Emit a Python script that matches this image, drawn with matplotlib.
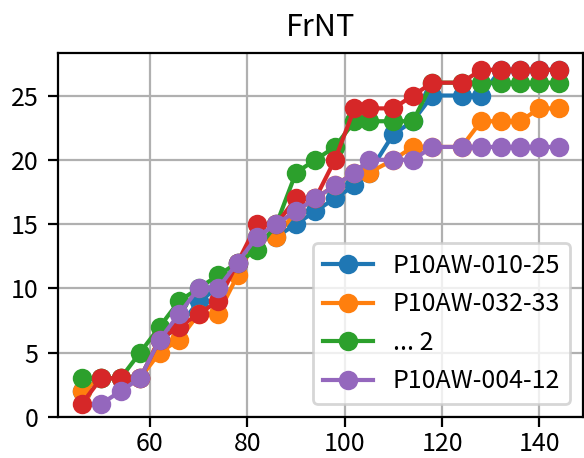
import matplotlib
matplotlib.use("Agg")
import matplotlib.pyplot as plt

plt.rcParams['font.family'] = ['Noto Sans CJK JP', 'DejaVu Sans']

# shared x positions
x_all = [46, 50, 54, 58, 62, 66, 70, 74, 78, 82, 86, 90, 94, 98,
         102, 105, 110, 114, 118, 124, 128, 132, 136, 140, 144]

blue_y = [2, 3, 3, 3, 6, 7, 9, 10, 12, 14, 14, 15, 16, 17,
          18, 19, 22, 23, 25, 25, 25, 27, 27, 27, 27]
orange_y = [2, 3, 3, 3, 5, 6, 8, 8, 11, 14, 14, 16, 17, 18,
            19, 19, 20, 21, 21, 21, 23, 23, 23, 24, 24]
green_y = [3, 3, 3, 5, 7, 9, 10, 11, 12, 13, 15, 19, 20, 21,
           23, 23, 23, 23, 26, 26, 26, 26, 26, 26, 26]
red_y = [1, 3, 3, 3, 6, 7, 8, 9, 12, 15, 15, 17, 17, 20,
         24, 24, 24, 25, 26, 26, 27, 27, 27, 27, 27]
# purple starts one step later
purple_x = x_all[1:]
purple_y = [1, 2, 3, 6, 8, 10, 10, 12, 14, 15, 16, 17, 18,
            19, 20, 20, 20, 21, 21, 21, 21, 21, 21, 21]

labels = ["P10AW-010-25", "P10AW-032-33", "... 2", "_nolegend_", "P10AW-004-12"]

fig, ax = plt.subplots(figsize=(2.92, 2.29), dpi=200)
fig.subplots_adjust(left=0.099, right=0.998, bottom=0.09, top=0.884)

ax.plot(x_all, blue_y, marker='o', label=labels[0])
ax.plot(x_all, orange_y, marker='o', label=labels[1])
ax.plot(x_all, green_y, marker='o', label=labels[2])
ax.plot(x_all, red_y, marker='o', label=labels[3])
ax.plot(purple_x, purple_y, marker='o', label=labels[4])

ax.set_ylim(bottom=0)
ax.set_title("FrNT", fontsize=11)
ax.tick_params(labelsize=9)
ax.tick_params(axis='x', pad=1.5)
ax.grid(True)
ax.legend(loc='lower right', fontsize=9)

fig.savefig("out.png", dpi=200)
